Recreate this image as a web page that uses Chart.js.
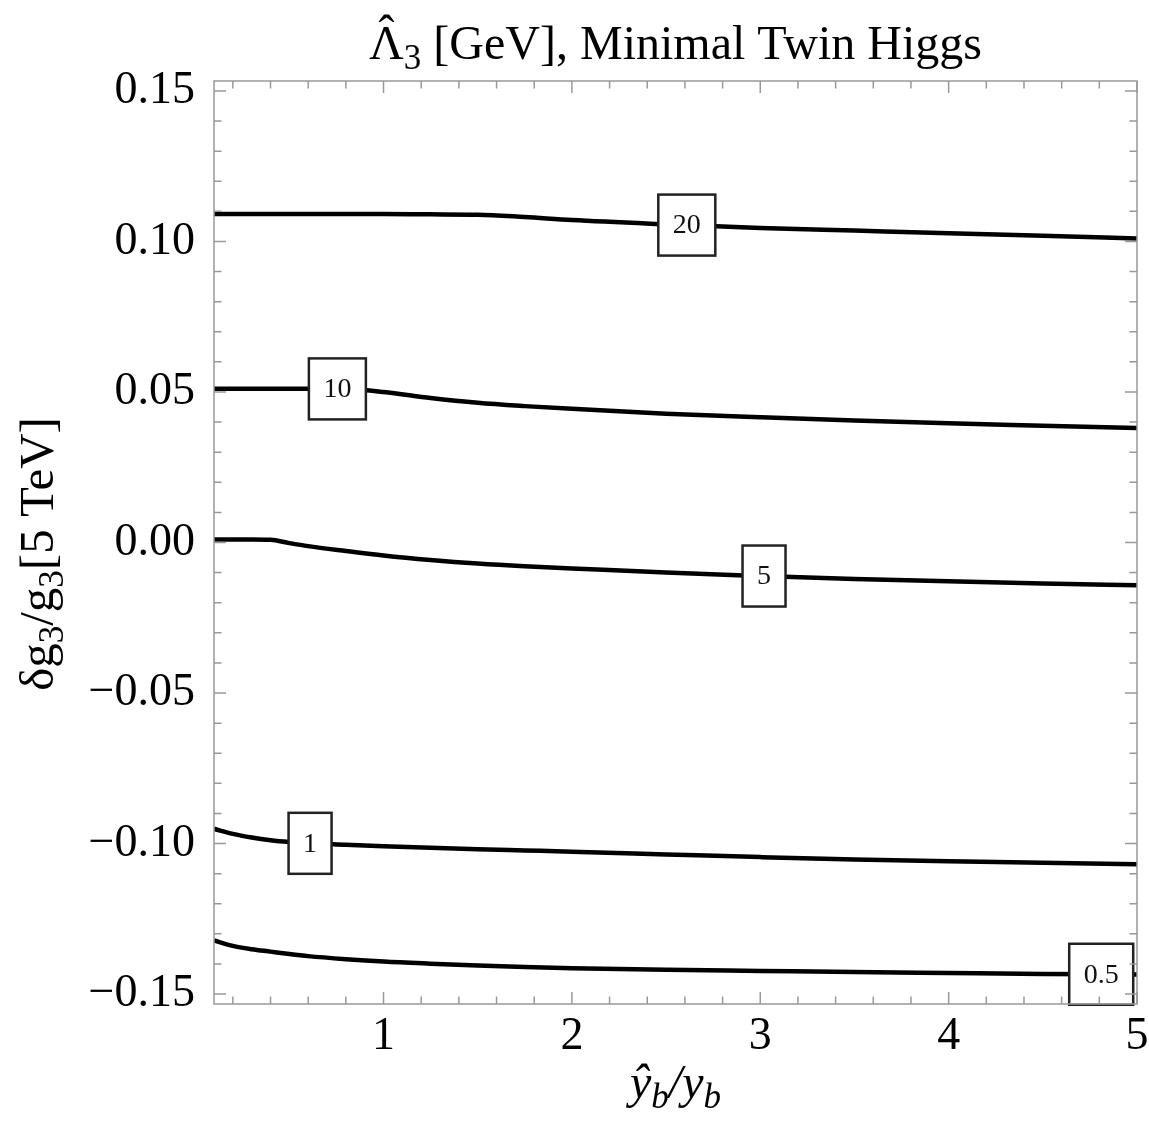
<!DOCTYPE html>
<html>
<head>
<meta charset="utf-8">
<script src="https://cdn.jsdelivr.net/npm/chart.js@4.4.1/dist/chart.umd.min.js"></script>
<style>
  html, body { margin: 0; padding: 0; background: #fff; }
</style>
</head>
<body>
<canvas id="chart" width="1149" height="1131"></canvas>
<script>
// contour lines of Λ̂3 in the (ŷb/yb, δg3/g3) plane
const xVals = [0.1, 0.2, 0.3, 0.4, 0.5, 0.6, 0.8, 1.0, 1.25, 1.5, 1.75, 2.0, 2.5, 3.0, 3.5, 4.0, 4.5, 5.0];
const curve20 = [0.1091, 0.1091, 0.1091, 0.1091, 0.1091, 0.1091, 0.1091, 0.1091, 0.1090, 0.1089, 0.1081, 0.1071, 0.1057, 0.1045, 0.1036, 0.1027, 0.1019, 0.1010];
const curve10 = [0.0511, 0.0511, 0.0511, 0.0511, 0.0511, 0.0511, 0.0510, 0.0500, 0.0480, 0.0464, 0.0453, 0.0444, 0.0428, 0.0416, 0.0405, 0.0396, 0.0388, 0.0380];
const curve5 = [0.0010, 0.0010, 0.0010, 0.0009, -0.0002, -0.0012, -0.0028, -0.0043, -0.0058, -0.0070, -0.0079, -0.0086, -0.0100, -0.0111, -0.0121, -0.0129, -0.0136, -0.0142];
const curve1 = [-0.0951, -0.0968, -0.0980, -0.0989, -0.0995, -0.0999, -0.1004, -0.1009, -0.1014, -0.1019, -0.1023, -0.1027, -0.1036, -0.1045, -0.1053, -0.1059, -0.1064, -0.1069];
const curve05 = [-0.1322, -0.1340, -0.1351, -0.1359, -0.1367, -0.1374, -0.1384, -0.1392, -0.1399, -0.1405, -0.1410, -0.1414, -0.1419, -0.1423, -0.1427, -0.1430, -0.1433, -0.1435];

const contourNames = ["20", "10", "5", "1", "0.5"];
const contourData = [curve20, curve10, curve5, curve1, curve05];
const labelX = [2.61, 0.755, 3.02, 0.61, 4.81];

const xTicks = [1, 2, 3, 4, 5];
const yTicks = [-0.15, -0.10, -0.05, 0, 0.05, 0.10, 0.15];

const SERIF = '"Liberation Serif", "Times New Roman", serif';

function interp(xs, ys, x) {
  for (let i = 0; i < xs.length - 1; i++) {
    if (x >= xs[i] && x <= xs[i + 1]) {
      const t = (x - xs[i]) / (xs[i + 1] - xs[i]);
      return ys[i] + t * (ys[i + 1] - ys[i]);
    }
  }
  return ys[ys.length - 1];
}

// text with subscripts / hats, measured piece by piece
function partFont(p, size) {
  const s = p.sub ? Math.round(size * 0.72) : size;
  return (p.italic ? "italic " : "") + s + "px " + SERIF;
}
function richWidth(ctx, parts, size) {
  let w = 0;
  for (const p of parts) {
    ctx.font = partFont(p, size);
    w += ctx.measureText(p.t).width;
  }
  return w;
}
function drawRich(ctx, parts, x, y, size) {
  for (const p of parts) {
    ctx.font = partFont(p, size);
    const w = ctx.measureText(p.t).width;
    ctx.fillText(p.t, x, y + (p.sub ? size * 0.2 : 0));
    if (p.hat) {
      ctx.textAlign = "center";
      ctx.fillText("ˆ", x + w / 2, y - size * 0.2);
      ctx.textAlign = "left";
    }
    x += w;
  }
}

const framePlugin = {
  id: "frame",
  afterDatasetsDraw(chart) {
    const { ctx, chartArea: a, scales } = chart;
    const xs = scales.x, ys = scales.y;
    ctx.save();

    // contour value boxes
    ctx.font = "28px " + SERIF;
    ctx.textAlign = "center";
    ctx.textBaseline = "middle";
    contourNames.forEach((name, i) => {
      const px = xs.getPixelForValue(labelX[i]);
      const py = ys.getPixelForValue(interp(xVals, contourData[i], labelX[i]));
      const w = ctx.measureText(name).width + 29;
      const h = 61;
      ctx.fillStyle = "#fff";
      ctx.fillRect(px - w / 2, py - h / 2, w, h);
      ctx.strokeStyle = "#222";
      ctx.lineWidth = 2.5;
      ctx.strokeRect(px - w / 2, py - h / 2, w, h);
      ctx.fillStyle = "#111";
      ctx.fillText(name, px, py + 1);
    });

    // frame with inward ticks on all four sides
    ctx.strokeStyle = "#999";
    ctx.lineWidth = 1.5;
    ctx.strokeRect(a.left, a.top, a.right - a.left, a.bottom - a.top);
    ctx.beginPath();
    for (let k = 1; k <= 25; k++) {
      const px = xs.getPixelForValue(k * 0.2);
      const len = k % 5 === 0 ? 12 : 7.5;
      ctx.moveTo(px, a.bottom); ctx.lineTo(px, a.bottom - len);
      ctx.moveTo(px, a.top); ctx.lineTo(px, a.top + len);
    }
    for (let k = -15; k <= 15; k++) {
      const py = ys.getPixelForValue(k * 0.01);
      const len = k % 5 === 0 ? 12 : 7.5;
      ctx.moveTo(a.left, py); ctx.lineTo(a.left + len, py);
      ctx.moveTo(a.right, py); ctx.lineTo(a.right - len, py);
    }
    ctx.stroke();
    ctx.restore();
  },
  afterDraw(chart) {
    const { ctx, chartArea: a } = chart;
    const cx = (a.left + a.right) / 2;
    ctx.save();
    ctx.fillStyle = "#000";
    ctx.textBaseline = "alphabetic";
    ctx.textAlign = "left";

    const title = [{ t: "Λ", hat: true }, { t: "3", sub: true }, { t: " [GeV], Minimal Twin Higgs" }];
    drawRich(ctx, title, cx - richWidth(ctx, title, 48) / 2, 59, 48);

    const xTitle = [{ t: "ŷ", italic: true }, { t: "b", italic: true, sub: true }, { t: "/y", italic: true }, { t: "b", italic: true, sub: true }];
    drawRich(ctx, xTitle, cx - richWidth(ctx, xTitle, 48) / 2, 1098, 48);

    const yTitle = [{ t: "δg" }, { t: "3", sub: true }, { t: "/g" }, { t: "3", sub: true }, { t: "[5 TeV]" }];
    ctx.translate(53, 554);
    ctx.rotate(-Math.PI / 2);
    drawRich(ctx, yTitle, -richWidth(ctx, yTitle, 49) / 2, 0, 49);
    ctx.restore();
  }
};

const datasets = contourData.map((vals, i) => ({
  label: contourNames[i],
  data: xVals.map((x, j) => ({ x: x, y: vals[j] })),
  showLine: true,
  borderColor: "#000",
  borderWidth: 4.5,
  pointRadius: 0,
  cubicInterpolationMode: "monotone",
  fill: false
}));

new Chart(document.getElementById("chart"), {
  type: "scatter",
  data: { datasets: datasets },
  options: {
    responsive: false,
    animation: false,
    layout: { padding: { left: 0, top: 81, right: 12, bottom: 0 } },
    plugins: {
      legend: { display: false },
      tooltip: { enabled: false },
      title: { display: false }
    },
    scales: {
      x: {
        type: "linear",
        min: 0.1,
        max: 5,
        grid: { display: false },
        border: { display: false },
        afterBuildTicks: (s) => { s.ticks = xTicks.map(v => ({ value: v })); },
        afterFit: (s) => { s.height = 127; },
        ticks: {
          autoSkip: false,
          maxRotation: 0,
          padding: -3,
          color: "#000",
          font: { family: SERIF, size: 46, lineHeight: 1.2 },
          callback: (v) => String(v)
        }
      },
      y: {
        type: "linear",
        min: -0.1533,
        max: 0.1533,
        grid: { display: false },
        border: { display: false },
        afterBuildTicks: (s) => { s.ticks = yTicks.map(v => ({ value: v })); },
        afterFit: (s) => { s.width = 214; },
        ticks: {
          autoSkip: false,
          padding: 11,
          color: "#000",
          font: { family: SERIF, size: 46, lineHeight: 1.2 },
          callback: (v) => v.toFixed(2).replace("-", "−")
        }
      }
    }
  },
  plugins: [framePlugin]
});
</script>
</body>
</html>
